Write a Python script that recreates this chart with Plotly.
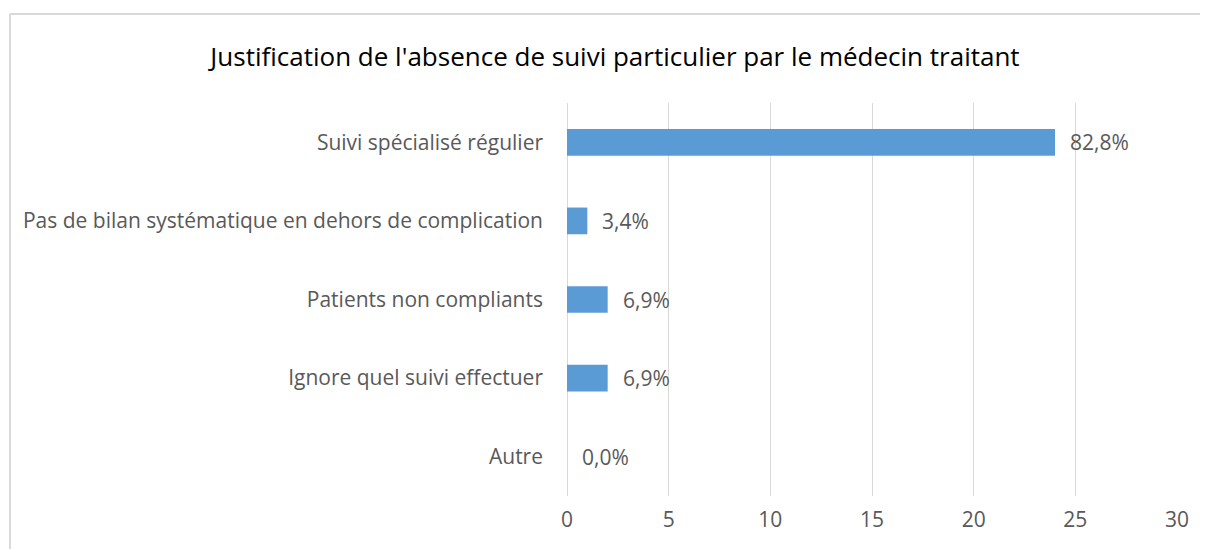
import plotly.graph_objects as go

categories = ["Suivi spécialisé régulier",
              "Pas de bilan systématique en dehors de complication",
              "Patients non compliants",
              "Ignore quel suivi effectuer",
              "Autre"]
counts = [24, 1, 2, 2, 0]
tick_values = [0, 5, 10, 15, 20, 25, 30]

total = sum(counts)
labels = [("%.1f%%" % (100.0 * c / total)).replace(".", ",") for c in counts]

FONT = "Open Sans"
GREY = "#595959"
BORDER = "#d9d9d9"

# page body has an 8px margin: figure drawn at (8, 8)
W, H = 1200, 541
L, R, T, B = 559, 31, 95, 53
PW, PH = W - L - R, H - T - B

fig = go.Figure(go.Bar(
    y=categories, x=counts, orientation="h",
    marker=dict(color="#5B9BD5", line=dict(width=0)),
    hoverinfo="x+y",
))

annotations = [dict(x=c, y=cat, xref="x", yref="y", text=lab, showarrow=False,
                    xanchor="left", yanchor="middle", xshift=13,
                    font=dict(family=FONT, size=21, color=GREY))
               for cat, c, lab in zip(categories, counts, labels)]

bx0 = (2 - L) / PW
by1 = 1 + (T - 6) / PH
fig.update_layout(
    width=W, height=H,
    margin=dict(l=L, r=R, t=T, b=B),
    paper_bgcolor="white", plot_bgcolor="white",
    bargap=0.66,
    showlegend=False,
    title=dict(text="Justification de l'absence de suivi particulier par le médecin traitant",
               x=(615 - 8 - L) / PW, xref="paper", xanchor="center",
               y=1 - 49 / H, yanchor="middle",
               font=dict(family=FONT, size=26, color="#000000")),
    xaxis=dict(range=[0, 30], tickvals=tick_values, showgrid=True, gridcolor=BORDER,
               gridwidth=1, zeroline=True, zerolinecolor=BORDER, zerolinewidth=1,
               showline=False, ticklabelstandoff=9,
               tickfont=dict(family=FONT, size=21, color=GREY), ticks="", ticklen=0),
    yaxis=dict(categoryorder="array", categoryarray=categories[::-1], showgrid=False,
               zeroline=False, showline=False, ticks="", ticklabelstandoff=23,
               tickfont=dict(family=FONT, size=21, color=GREY)),
    annotations=annotations,
    shapes=[
        dict(type="line", xref="paper", yref="paper", x0=bx0, x1=(W - L) / PW,
             y0=by1, y1=by1, line=dict(color=BORDER, width=2), layer="below"),
        dict(type="line", xref="paper", yref="paper", x0=bx0, x1=bx0,
             y0=-B / PH, y1=by1, line=dict(color=BORDER, width=2), layer="below"),
    ],
)

fig.write_html("out.html")
